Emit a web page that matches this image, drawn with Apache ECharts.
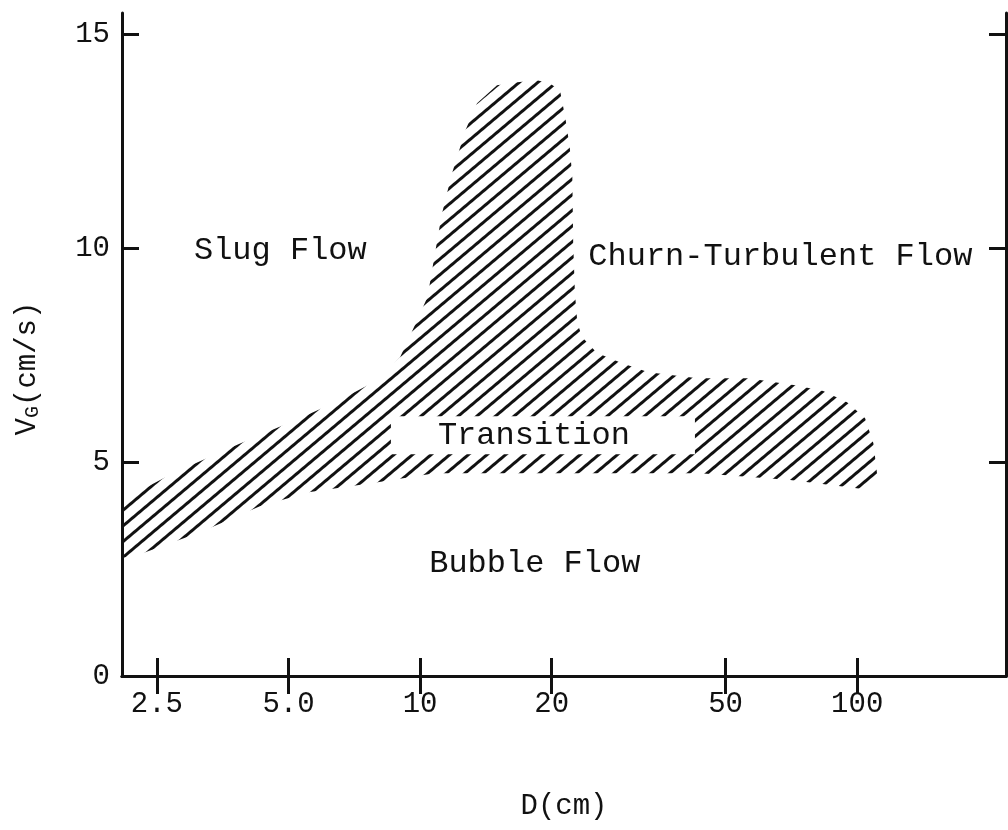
<!DOCTYPE html>
<html>
<head>
<meta charset="utf-8">
<script src="https://cdn.jsdelivr.net/npm/echarts@6/dist/echarts.min.js"></script>
<style>
  html, body { margin: 0; padding: 0; background: #fff; }
  #chart { width: 1008px; height: 830px; }
</style>
</head>
<body>
<div id="chart"></div>
<script>
// ---- data ----
const xTickValues = [2.5, 5, 10, 20, 50, 100];
const xTickLabels = ['2.5', '5.0', '10', '20', '50', '100'];
const yTickValues = [0, 5, 10, 15];

// boundary of the hatched "Transition" region (D in cm, VG in cm/s)
const regionD = [2.08, 2.26, 3.14, 4.30, 5.60, 7.80, 10.8, 19.5, 43.7, 70.3, 103, 111,
                 111, 108.9, 104.2, 94.8, 83.6, 72.1, 56.3, 43.1, 33.3, 29.0, 25.4, 23.5,
                 22.9, 22.6, 22.4, 22.3, 22.0, 21.5, 20.9, 19.8, 18.5, 16.7, 15.0, 13.5,
                 12.7, 11.8, 11.2, 10.8, 10.4, 9.8, 9.0, 8.0, 6.49, 5.37, 3.84, 2.72, 2.08];
const regionV = [2.76, 2.83, 3.36, 3.97, 4.30, 4.51, 4.74, 4.74, 4.74, 4.58, 4.37, 4.47,
                 4.74, 5.44, 6.03, 6.40, 6.66, 6.80, 6.96, 6.96, 7.10, 7.31, 7.55, 7.92,
                 8.25, 8.97, 10.14, 11.66, 12.36, 13.04, 13.69, 13.86, 13.93, 13.88, 13.81, 13.39,
                 12.76, 11.71, 10.77, 9.84, 8.86, 8.27, 7.45, 6.92, 6.43, 6.05, 5.42, 4.74, 4.11];

const regionLabelText = ['Slug Flow', 'Churn-Turbulent Flow', 'Bubble Flow'];
const regionLabelD = [4.79, 66.7, 18.3];
const regionLabelV = [9.95, 9.8, 2.62];
const transitionText = 'Transition';
const transitionD = 19.1;
const transitionV = 5.63;

const xMin = 2.08, xMax = 219;
const yMin = 0, yMax = 15.5;

// ---- hatch pattern tile ----
const tile = document.createElement('canvas');
tile.width = 32; tile.height = 12;
const tctx = tile.getContext('2d');
tctx.fillStyle = '#111';
tctx.fillRect(0, 0, 32, 3);

const FONT = "'Liberation Mono', 'Courier New', monospace";
const INK = '#111';

function xLabel(v) {
  let best = 0, bd = Infinity;
  xTickValues.forEach((t, i) => { const d = Math.abs(Math.log(t) - Math.log(v)); if (d < bd) { bd = d; best = i; } });
  return xTickLabels[best];
}

const axisLineStyle = { color: INK, width: 3 };
const tickStyle = { color: INK, width: 3 };

const chart = echarts.init(document.getElementById('chart'), null, { renderer: 'canvas' });
chart.setOption({
  backgroundColor: '#fff',
  animation: false,
  grid: { left: 122, right: 2, top: 13, bottom: 154, containLabel: false, outerBoundsMode: 'none' },
  xAxis: [
    {
      type: 'log', logBase: 10, min: xMin, max: xMax, position: 'bottom',
      name: 'D(cm)', nameLocation: 'middle', nameGap: 116,
      nameTextStyle: { fontFamily: FONT, fontSize: 29, color: INK },
      axisLine: { show: true, lineStyle: axisLineStyle },
      axisTick: { show: true, inside: true, length: 18, lineStyle: tickStyle, customValues: xTickValues },
      minorTick: { show: false },
      axisLabel: { show: true, customValues: xTickValues, formatter: xLabel, margin: 14,
                   fontFamily: FONT, fontSize: 29, color: INK },
      splitLine: { show: false }
    },
    {
      type: 'log', logBase: 10, min: xMin, max: xMax, position: 'top',
      axisLine: { show: true, lineStyle: axisLineStyle },
      axisTick: { show: true, inside: true, length: 18, lineStyle: tickStyle, customValues: xTickValues },
      axisLabel: { show: false },
      splitLine: { show: false }
    }
  ],
  yAxis: [
    {
      type: 'value', min: yMin, max: yMax, position: 'left',
      name: '{v|V}{g|G}{u|(cm/s)}', nameLocation: 'middle', nameRotate: 90, nameGap: 79,
      nameTextStyle: {
        fontFamily: FONT, color: INK, padding: [0, 48, 0, 0],
        rich: {
          v: { fontFamily: FONT, fontSize: 29, color: INK, lineHeight: 30, verticalAlign: 'top' },
          g: { fontFamily: FONT, fontSize: 20, color: INK, lineHeight: 20, padding: [20, 0, 0, 0], verticalAlign: 'bottom' },
          u: { fontFamily: FONT, fontSize: 29, color: INK, lineHeight: 30, verticalAlign: 'top' }
        }
      },
      axisLine: { show: true, lineStyle: axisLineStyle },
      axisTick: { show: true, inside: true, length: 17, lineStyle: tickStyle, customValues: yTickValues },
      axisLabel: { show: true, customValues: yTickValues, margin: 12, fontFamily: FONT, fontSize: 29, color: INK },
      splitLine: { show: false }
    },
    {
      type: 'value', min: yMin, max: yMax, position: 'right',
      axisLine: { show: true, lineStyle: axisLineStyle },
      axisTick: { show: true, inside: true, length: 17, lineStyle: tickStyle, customValues: yTickValues },
      axisLabel: { show: false },
      splitLine: { show: false }
    }
  ],
  series: [
    {
      type: 'custom',
      xAxisIndex: 0, yAxisIndex: 0,
      silent: true,
      data: [[regionD[0], regionV[0]]],
      renderItem: function (params, api) {
        const pts = regionD.map((d, i) => api.coord([d, regionV[i]]));
        return {
          type: 'polygon',
          shape: { points: pts },
          style: {
            fill: { type: 'pattern', image: tile, repeat: 'repeat', rotation: -0.7 },
            stroke: null
          }
        };
      },
      z: 2
    },
    {
      type: 'scatter',
      xAxisIndex: 0, yAxisIndex: 0,
      silent: true,
      symbolSize: 1,
      itemStyle: { color: 'rgba(0,0,0,0)', opacity: 1 },
      data: regionLabelText.map((t, i) => [regionLabelD[i], regionLabelV[i], t]),
      label: {
        show: true, position: 'inside',
        formatter: p => p.data[2],
        fontFamily: FONT, fontSize: 32, color: INK
      },
      z: 5
    },
    {
      type: 'scatter',
      xAxisIndex: 0, yAxisIndex: 0,
      silent: true,
      symbolSize: 1,
      itemStyle: { color: 'rgba(0,0,0,0)', opacity: 1 },
      data: [[transitionD, transitionV, transitionText]],
      label: {
        show: true, position: 'inside',
        formatter: p => p.data[2],
        fontFamily: FONT, fontSize: 32, color: INK,
        backgroundColor: '#fff', padding: [4, 65, 2, 47]
      },
      z: 5
    }
  ]
});
</script>
</body>
</html>
